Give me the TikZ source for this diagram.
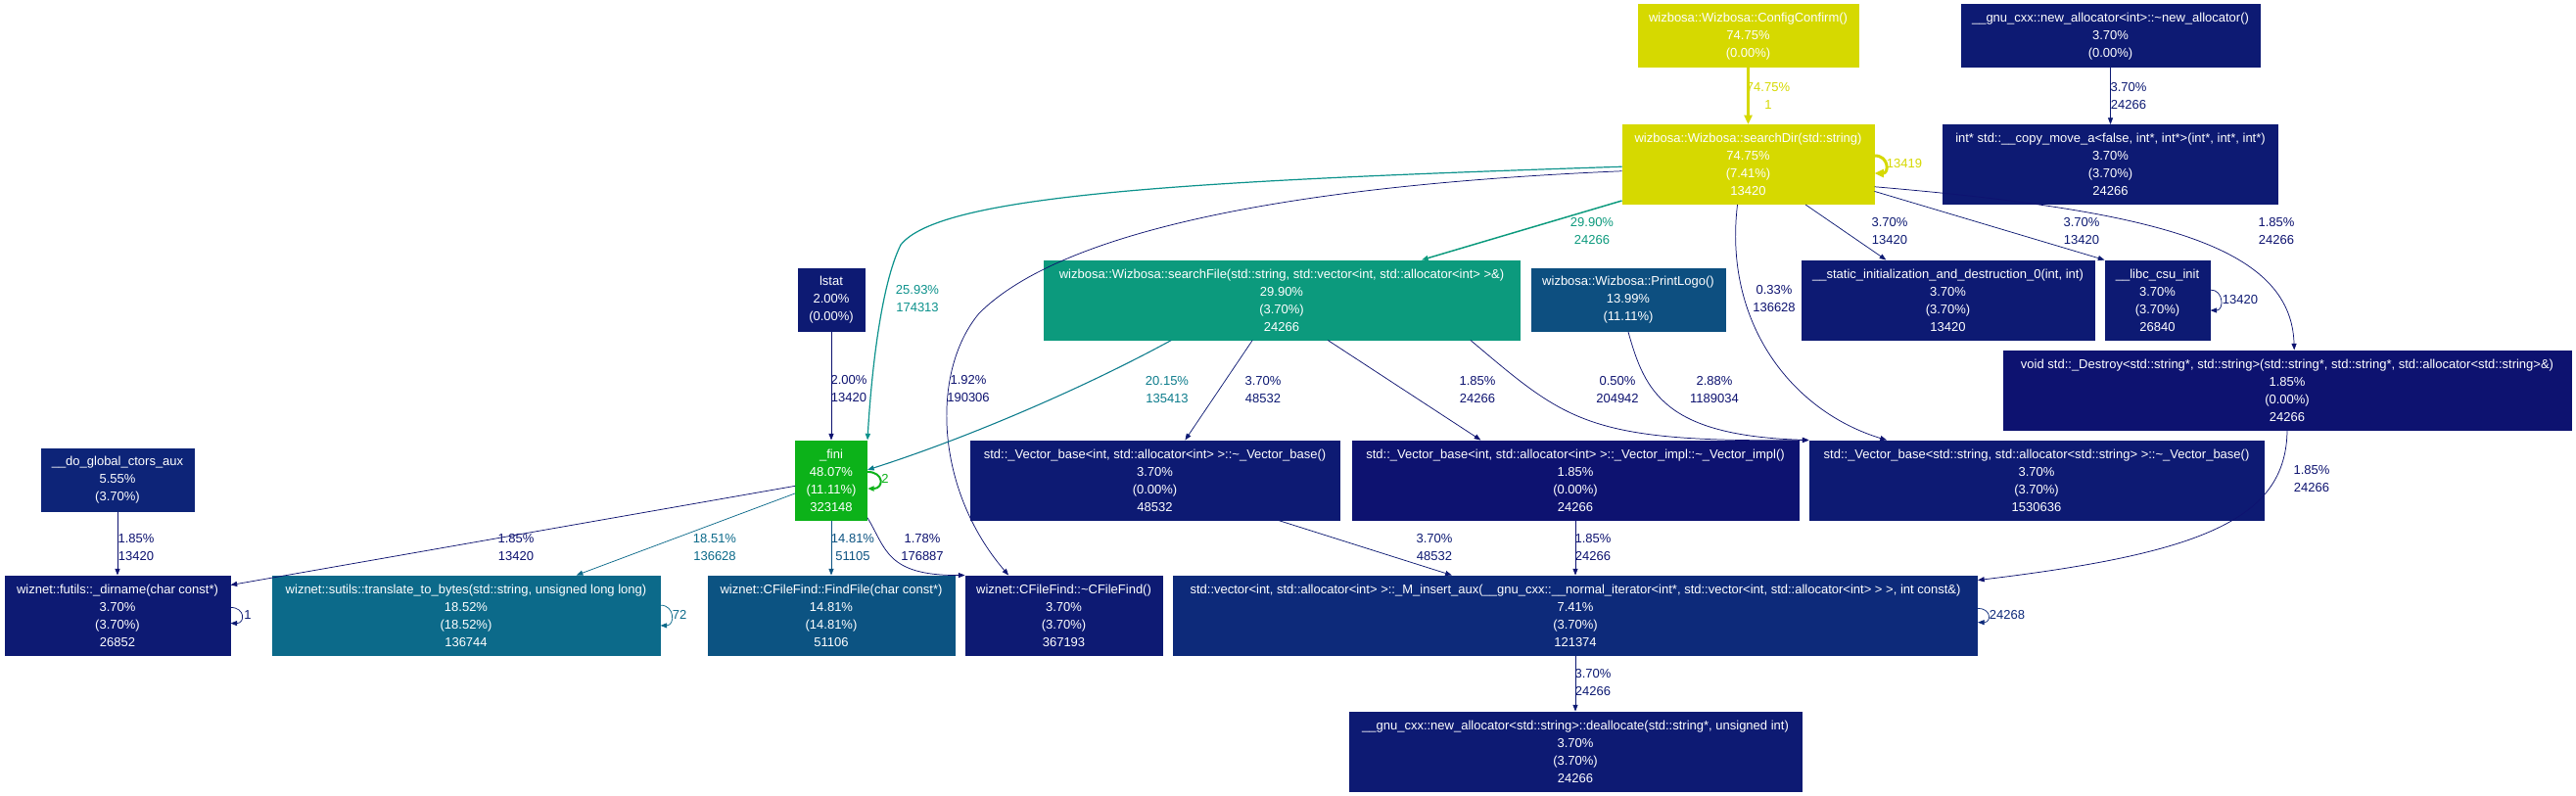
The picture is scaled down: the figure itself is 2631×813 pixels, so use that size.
\documentclass[tikz,border=0pt]{standalone}
\usepackage{fontspec}
\setmainfont{Liberation Sans}
\usetikzlibrary{arrows.meta}

\definecolor{cyel}{RGB}{214,217,0}
\definecolor{cgreen}{RGB}{12,178,25}
\definecolor{cteal}{RGB}{12,154,125}
\definecolor{cteallt}{RGB}{12,146,140}
\definecolor{cblueteal}{RGB}{12,124,140}
\definecolor{ctrans}{RGB}{12,106,138}
\definecolor{cfind}{RGB}{12,83,130}
\definecolor{clogo}{RGB}{13,79,128}
\definecolor{cins}{RGB}{13,42,122}
\definecolor{cglob}{RGB}{13,36,120}
\definecolor{cnavy}{RGB}{13,26,115}
\definecolor{cdark}{RGB}{13,18,112}

\newcommand{\tld}{\textasciitilde}

\tikzset{every picture/.style={line width=0.75pt}}
\tikzset{
  fn/.style={fill=#1, draw=#1, text=white, align=center, inner sep=0pt,
    font=\fontsize{9.75}{13.5}\selectfont},
  sz/.style 2 args={minimum width=#1*0.75pt, minimum height=#2*0.75pt},
  lab/.style={text=#1, align=center, inner sep=0pt,
    font=\fontsize{9.75}{13.5}\selectfont},
  call/.style={draw=#1, line width=0.55pt, -{Triangle[length=5pt,width=3.8pt]}},
  heavy/.style={line width=2.25pt, -{Triangle[length=7pt,width=6pt]}}
}

\begin{document}
\begin{tikzpicture}[x=0.75pt,y=0.75pt,yscale=-1,xscale=1]
\path[fill=white] (0,0) rectangle (2631,813);

%Shape: Rectangle [top row]
\node[fn=cyel, sz={225}{64}] (config) at (1785.5,37) {wizbosa::Wizbosa::ConfigConfirm()\\74.75\%\\(0.00\%)};
\node[fn=cnavy, sz={305}{64}] (newalloc) at (2155.5,37) {\_\_gnu\_cxx::new\_allocator<int>::\tld new\_allocator()\\3.70\%\\(0.00\%)};
\node[fn=cyel, sz={257}{81}] (searchdir) at (1785.5,168) {wizbosa::Wizbosa::searchDir(std::string)\\74.75\%\\(7.41\%)\\13420};
\node[fn=cnavy, sz={342}{81}] (copymove) at (2155.5,168) {int* std::\_\_copy\_move\_a<false, int*, int*>(int*, int*, int*)\\3.70\%\\(3.70\%)\\24266};

%Shape: Rectangle [second row]
\node[fn=cnavy, sz={68}{64}] (lstat) at (849,306) {lstat\\2.00\%\\(0.00\%)};
\node[fn=cteal, sz={486}{81}] (searchfile) at (1309,306.5) {wizbosa::Wizbosa::searchFile(std::string, std::vector<int, std::allocator<int> >\&)\\29.90\%\\(3.70\%)\\24266};
\node[fn=clogo, sz={198}{64}] (printlogo) at (1663,306.5) {wizbosa::Wizbosa::PrintLogo()\\13.99\%\\(11.11\%)};
\node[fn=cnavy, sz={299}{81}] (staticinit) at (1989.5,306.5) {\_\_static\_initialization\_and\_destruction\_0(int, int)\\3.70\%\\(3.70\%)\\13420};
\node[fn=cnavy, sz={107}{81}] (libc) at (2203.5,306.5) {\_\_libc\_csu\_init\\3.70\%\\(3.70\%)\\26840};
\node[fn=cdark, sz={580}{81}] (destroy) at (2336,398.5) {void std::\_Destroy<std::string*, std::string>(std::string*, std::string*, std::allocator<std::string>\&)\\1.85\%\\(0.00\%)\\24266};

%Shape: Rectangle [third row]
\node[fn=cglob, sz={156}{64}] (doglobal) at (120,490) {\_\_do\_global\_ctors\_aux\\5.55\%\\(3.70\%)};
\node[fn=cgreen, sz={73}{81}] (fini) at (849,490.5) {\_fini\\48.07\%\\(11.11\%)\\323148};
\node[fn=cnavy, sz={377}{81}] (vbint) at (1179.5,490.5) {std::\_Vector\_base<int, std::allocator<int> >::\tld\_Vector\_base()\\3.70\%\\(0.00\%)\\48532};
\node[fn=cdark, sz={456}{81}] (vimpl) at (1609,490.5) {std::\_Vector\_base<int, std::allocator<int> >::\_Vector\_impl::\tld\_Vector\_impl()\\1.85\%\\(0.00\%)\\24266};
\node[fn=cnavy, sz={464}{81}] (vbstr) at (2080,490.5) {std::\_Vector\_base<std::string, std::allocator<std::string> >::\tld\_Vector\_base()\\3.70\%\\(3.70\%)\\1530636};

%Shape: Rectangle [fourth row]
\node[fn=cnavy, sz={230}{81}] (dirname) at (120,628.5) {wiznet::futils::\_dirname(char const*)\\3.70\%\\(3.70\%)\\26852};
\node[fn=ctrans, sz={396}{81}] (translate) at (476,628.5) {wiznet::sutils::translate\_to\_bytes(std::string, unsigned long long)\\18.52\%\\(18.52\%)\\136744};
\node[fn=cfind, sz={252}{81}] (findfile) at (849,628.5) {wiznet::CFileFind::FindFile(char const*)\\14.81\%\\(14.81\%)\\51106};
\node[fn=cnavy, sz={201}{81}] (cfilefind) at (1086.5,628.5) {wiznet::CFileFind::\tld CFileFind()\\3.70\%\\(3.70\%)\\367193};
\node[fn=cins, sz={821}{81}] (minsert) at (1609,628.5) {std::vector<int, std::allocator<int> >::\_M\_insert\_aux(\_\_gnu\_cxx::\_\_normal\_iterator<int*, std::vector<int, std::allocator<int> > >, int const\&)\\7.41\%\\(3.70\%)\\121374};
\node[fn=cnavy, sz={462}{81}] (dealloc) at (1609,767.5) {\_\_gnu\_cxx::new\_allocator<std::string>::deallocate(std::string*, unsigned int)\\3.70\%\\(3.70\%)\\24266};

%Straight Lines
\draw[call=cyel, heavy] (config.south) -- (searchdir.north);
\draw[call=cnavy] (newalloc.south) -- (copymove.north);
\draw[call=cteal, line width=1.1pt] (searchdir.196) -- (searchfile.16);
\draw[call=cnavy] (searchdir.325) -- (staticinit.147);
\draw[call=cnavy] (searchdir.348) -- (libc.north west);
\draw[call=cdark] (lstat.south) -- (fini.north);
\draw[call=cnavy] (searchfile.234) -- (vbint.53);
\draw[call=cdark] (searchfile.319) -- (vimpl.157);
\draw[call=cdark] (fini.189) -- (dirname.15);
\draw[call=ctrans] (fini.200) -- (translate.20);
\draw[call=cfind] (fini.south) -- (findfile.north);
\draw[call=cdark] (doglobal.south) -- (dirname.north);
\draw[call=cnavy] (vbint.342) -- (minsert.162);
\draw[call=cdark] (vimpl.south) -- (minsert.north);
\draw[call=cnavy] (minsert.south) -- (dealloc.north);

%Curve Lines
\draw[call=cteallt, line width=0.9pt] (searchdir.181) .. controls (1200,185) and (960,200) .. (920,250) .. controls (900,290) and (890,380) .. (fini.north east);
\draw[call=cdark] (searchdir.183) .. controls (1300,190) and (1080,240) .. (1000,320) .. controls (950,380) and (955,500) .. (cfilefind.144);
\draw[call=cdark] (searchdir.255) .. controls (1760,330) and (1830,420) .. (vbstr.165);
\draw[call=cdark] (searchdir.350) .. controls (2200,215) and (2340,250) .. (destroy.80);
\draw[call=cblueteal, line width=0.8pt] (searchfile.200) .. controls (1100,400) and (980,450) .. (fini.16);
\draw[call=cdark] (searchfile.348) .. controls (1600,430) and (1620,452) .. (vbstr.north west);
\draw[call=cdark] (printlogo.south) .. controls (1680,400) and (1700,445) .. (vbstr.north west);
\draw[call=cdark] (fini.314) .. controls (905,560) and (905,588) .. (cfilefind.north west);
\draw[call=cdark] (destroy.south) .. controls (2335,530) and (2250,565) .. (minsert.5);

%Self Loops
\draw[call=cyel, heavy] (searchdir.4) .. controls +(15,0) and +(15,0) .. (searchdir.356);
\draw[call=cnavy] (libc.11) .. controls +(14,0) and +(14,0) .. (libc.349);
\draw[call=cgreen, line width=1.5pt] (fini.13) .. controls +(17,0) and +(17,0) .. (fini.347);
\draw[call=cnavy] (dirname.4) .. controls +(15,0) and +(15,0) .. (dirname.356);
\draw[call=ctrans] (translate.3) .. controls +(15,0) and +(15,0) .. (translate.357);
\draw[call=cins] (minsert.1) .. controls +(14,0) and +(14,0) .. (minsert.359);

% Text Node
\node[lab=cyel] (lconfig) at (1806,98) {74.75\%\\1};
\node[lab=cnavy] (lnewalloc) at (2174,98) {3.70\%\\24266};
\node[lab=cyel] (lloopdir) at (1945,167) {13419};
\node[lab=cteal] (lsearchfile) at (1626,236) {29.90\%\\24266};
\node[lab=cnavy] (lstatic) at (1930,236) {3.70\%\\13420};
\node[lab=cnavy] (llibc) at (2126,236) {3.70\%\\13420};
\node[lab=cdark] (ldestroy) at (2325,236) {1.85\%\\24266};
\node[lab=cnavy] (lloopl) at (2288,306) {13420};
\node[lab=cdark] (lvbstrdir) at (1812,305) {0.33\%\\136628};
\node[lab=cteallt] (lfinidir) at (937,305) {25.93\%\\174313};
\node[lab=cdark] (llstat) at (867,397) {2.00\%\\13420};
\node[lab=cdark] (lcffdir) at (989,397) {1.92\%\\190306};
\node[lab=cblueteal] (lfinifile) at (1192,398) {20.15\%\\135413};
\node[lab=cnavy] (lvbint) at (1290,398) {3.70\%\\48532};
\node[lab=cdark] (lvimpl) at (1509,398) {1.85\%\\24266};
\node[lab=cdark] (lvbstrfile) at (1652,398) {0.50\%\\204942};
\node[lab=cdark] (lvbstrlogo) at (1751,398) {2.88\%\\1189034};
\node[lab=cdark] (lminsdestroy) at (2361,489) {1.85\%\\24266};
\node[lab=cgreen] (lloopfini) at (904,489) {2};
\node[lab=cdark] (ldoglobal) at (139,559) {1.85\%\\13420};
\node[lab=cdark] (ldirname) at (527,559) {1.85\%\\13420};
\node[lab=ctrans] (ltranslate) at (730,559) {18.51\%\\136628};
\node[lab=cfind] (lfindfile) at (871,559) {14.81\%\\51105};
\node[lab=cdark] (lcfffini) at (942,559) {1.78\%\\176887};
\node[lab=cnavy] (lminsvb) at (1465,559) {3.70\%\\48532};
\node[lab=cdark] (lminsimpl) at (1627,559) {1.85\%\\24266};
\node[lab=cnavy] (lloopdir2) at (253,628) {1};
\node[lab=ctrans] (lloopt) at (694,628) {72};
\node[lab=cins] (lloopins) at (2050,628) {24268};
\node[lab=cnavy] (ldealloc) at (1627,697) {3.70\%\\24266};

\end{tikzpicture}
\end{document}
